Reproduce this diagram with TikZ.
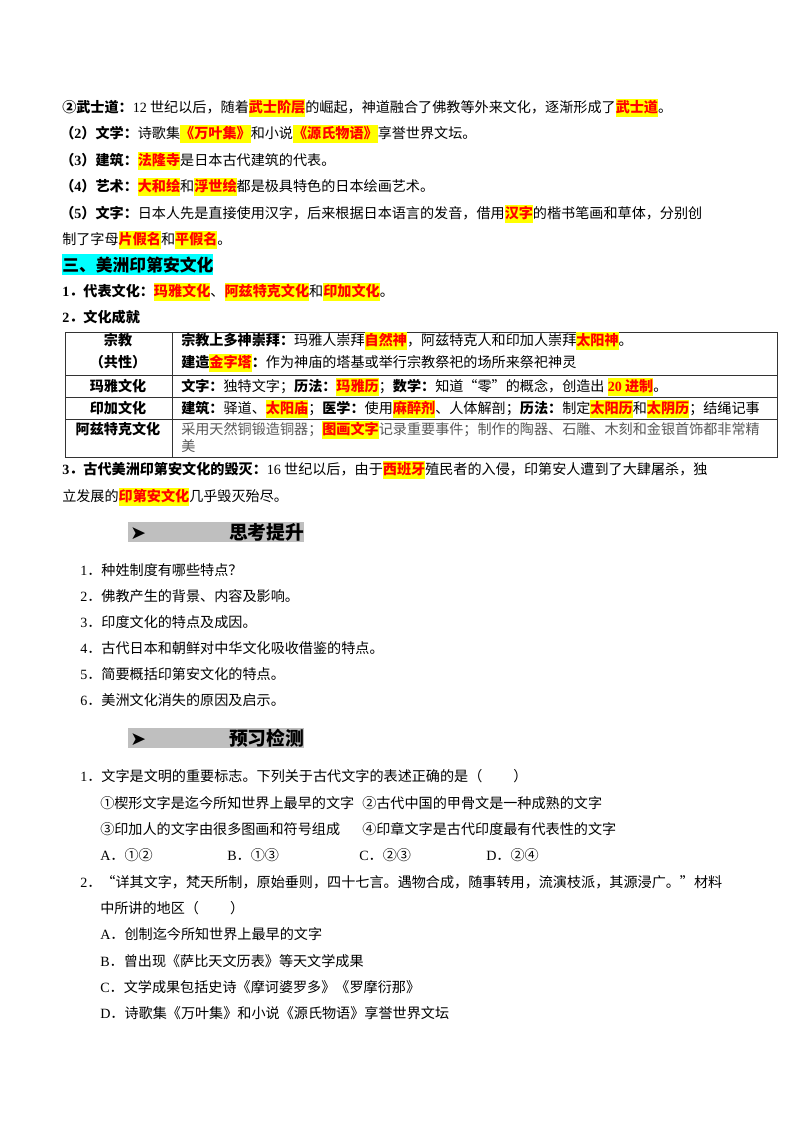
\documentclass[tikz,border=0pt]{standalone}
\usepackage{fontspec}
\setmainfont{Noto Sans CJK SC}
\newfontfamily\tnr{Liberation Serif}
\newfontfamily\djv{DejaVu Sans}
\usetikzlibrary{positioning}
\definecolor{aqua}{RGB}{0,255,255}
\definecolor{hlyellow}{RGB}{255,255,0}
\definecolor{hlred}{RGB}{255,0,0}
\newcommand\en[1]{{\tnr #1}}
\newcommand\body{\fontsize{10.5pt}{12.6pt}\selectfont}
\newcommand\hlw[1]{{\setlength\fboxsep{0pt}\sbox0{\bfseries\color{hlred}#1}\colorbox{hlyellow}{\vrule height 9.8pt depth 3.4pt width 0pt\usebox0}\llap{\color{hlred!60}\rule[-3.3pt]{\wd0}{0.9pt}}}}
\newcommand\hdtxt[1]{\makebox[75pt][l]{\hspace{1.5pt}\djv\fontsize{14pt}{14pt}\selectfont ➤}#1}
\begin{document}
\begin{tikzpicture}[x=0.7441pt,y=-0.7441pt,
  txt/.style={anchor=base west,inner sep=0pt,font=\body},
  cell/.style={anchor=base,inner sep=0pt,font=\body\bfseries},
  hdbox/.style={anchor=west,inner sep=0pt,fill=gray!50,minimum height=15.6pt,font=\fontsize{14pt}{16pt}\selectfont\bfseries},
  tbl/.style={draw=black!80,line width=0.6pt}]
\useasboundingbox (0,0) rectangle (800,1132);
\fill[white] (0,0) rectangle (800,1132);
\node[txt] (l1) at (62,112) {\textbf{②武士道：}\en{12} 世纪以后，随着\hlw{武士阶层}的崛起，神道融合了佛教等外来文化，逐渐形成了\hlw{武士道}。};
\node[txt] (l2) at (60,138) {\textbf{（\en{2}）文学：}诗歌集\hlw{《万叶集》}和小说\hlw{《源氏物语》}享誉世界文坛。};
\node[txt] (l3) at (60,165) {\textbf{（\en{3}）建筑：}\hlw{法隆寺}是日本古代建筑的代表。};
\node[txt] (l4) at (60,191) {\textbf{（\en{4}）艺术：}\hlw{大和绘}和\hlw{浮世绘}都是极具特色的日本绘画艺术。};
\node[txt] (l5) at (60,218) {\textbf{（\en{5}）文字：}日本人先是直接使用汉字，后来根据日本语言的发音，借用\hlw{汉字}的楷书笔画和草体，分别创};
\node[txt] (l6) at (62,244) {制了字母\hlw{片假名}和\hlw{平假名}。};
\node[txt,fill=aqua,font=\fontsize{12.5pt}{14pt}\selectfont\bfseries,inner ysep=2pt] (sec3) at (62,271) {三、美洲印第安文化};
\node[txt] (l7) at (62,296) {\textbf{\en{1}．代表文化：}\hlw{玛雅文化}、\hlw{阿兹特克文化}和\hlw{印加文化}。};
\node[txt] (l8) at (62,322) {\textbf{\en{2}．文化成就}};
% table
\draw[tbl] (65,332) rectangle (777,457);
\draw[tbl] (172,332) -- (172,457);
\foreach \y in {375,397,419}
  \draw[tbl] (65,\y) -- (777,\y);
\node[cell] (c1) at (118,345) {宗教};
\node[cell] (c1b) at (118,367) {（共性）};
\node[cell] (c2) at (118,391) {玛雅文化};
\node[cell] (c3) at (118,413) {印加文化};
\node[cell] (c4) at (118,434) {阿兹特克文化};
\node[txt] (r1) at (181,345) {\textbf{宗教上多神崇拜：}玛雅人崇拜\hlw{自然神}，阿兹特克人和印加人崇拜\hlw{太阳神}。};
\node[txt] (r1b) at (181,367) {\textbf{建造}\hlw{金字塔}\textbf{：}作为神庙的塔基或举行宗教祭祀的场所来祭祀神灵};
\node[txt] (r2) at (181,391) {\textbf{文字：}独特文字；\textbf{历法：}\hlw{玛雅历}；\textbf{数学：}知道“零”的概念，创造出 \hlw{\en{20} 进制}。};
\node[txt] (r3) at (181,413) {\textbf{建筑：}驿道、\hlw{太阳庙}；\textbf{医学：}使用\hlw{麻醉剂}、人体解剖；\textbf{历法：}制定\hlw{太阳历}和\hlw{太阴历}；结绳记事};
\node[txt,text=black!65] (r4) at (181,434) {采用天然铜锻造铜器；\hlw{图画文字}记录重要事件；制作的陶器、石雕、木刻和金银首饰都非常精};
\node[txt,text=black!65] (r4b) at (181,451) {美};
\node[txt] (l9) at (62,474) {\textbf{\en{3}．古代美洲印第安文化的毁灭：}\en{16} 世纪以后，由于\hlw{西班牙}殖民者的入侵，印第安人遭到了大肆屠杀，独};
\node[txt] (l10) at (62,501) {立发展的\hlw{印第安文化}几乎毁灭殆尽。};
% thinking
\node[hdbox] (hd1) at (128,532) {\hdtxt{思考提升}};
\node[txt] (q1) at (80,575) {\en{1}．种姓制度有哪些特点？};
\node[txt] (q2) at (80,601) {\en{2}．佛教产生的背景、内容及影响。};
\node[txt] (q3) at (80,627) {\en{3}．印度文化的特点及成因。};
\node[txt] (q4) at (80,653) {\en{4}．古代日本和朝鲜对中华文化吸收借鉴的特点。};
\node[txt] (q5) at (80,679) {\en{5}．简要概括印第安文化的特点。};
\node[txt] (q6) at (80,705) {\en{6}．美洲文化消失的原因及启示。};
% preview
\node[hdbox] (hd2) at (128,738) {\hdtxt{预习检测}};
\node[txt] (p1) at (80,781) {\en{1}．文字是文明的重要标志。下列关于古代文字的表述正确的是（\hspace{2.2em}）};
\node[txt] (p1a) at (100,808) {①楔形文字是迄今所知世界上最早的文字};
\node[txt] (p1b) at (362,808) {②古代中国的甲骨文是一种成熟的文字};
\node[txt] (p1c) at (100,834) {③印加人的文字由很多图画和符号组成};
\node[txt] (p1d) at (362,834) {④印章文字是古代印度最有代表性的文字};
\node[txt] (p1A) at (100,860) {\en{A}．①②};
\node[txt] (p1B) at (227,860) {\en{B}．①③};
\node[txt] (p1C) at (359,860) {\en{C}．②③};
\node[txt] (p1D) at (486,860) {\en{D}．②④};
\node[txt] (p2) at (80,887) {\en{2}．“详其文字，梵天所制，原始垂则，四十七言。遇物合成，随事转用，流演枝派，其源浸广。”材料};
\node[txt] (p2a) at (100,913) {中所讲的地区（\hspace{2.2em}）};
\node[txt] (p2A) at (100,939) {\en{A}．创制迄今所知世界上最早的文字};
\node[txt] (p2B) at (100,966) {\en{B}．曾出现《萨比天文历表》等天文学成果};
\node[txt] (p2C) at (100,992) {\en{C}．文学成果包括史诗《摩诃婆罗多》《罗摩衍那》};
\node[txt] (p2D) at (100,1018) {\en{D}．诗歌集《万叶集》和小说《源氏物语》享誉世界文坛};
\end{tikzpicture}
\end{document}
